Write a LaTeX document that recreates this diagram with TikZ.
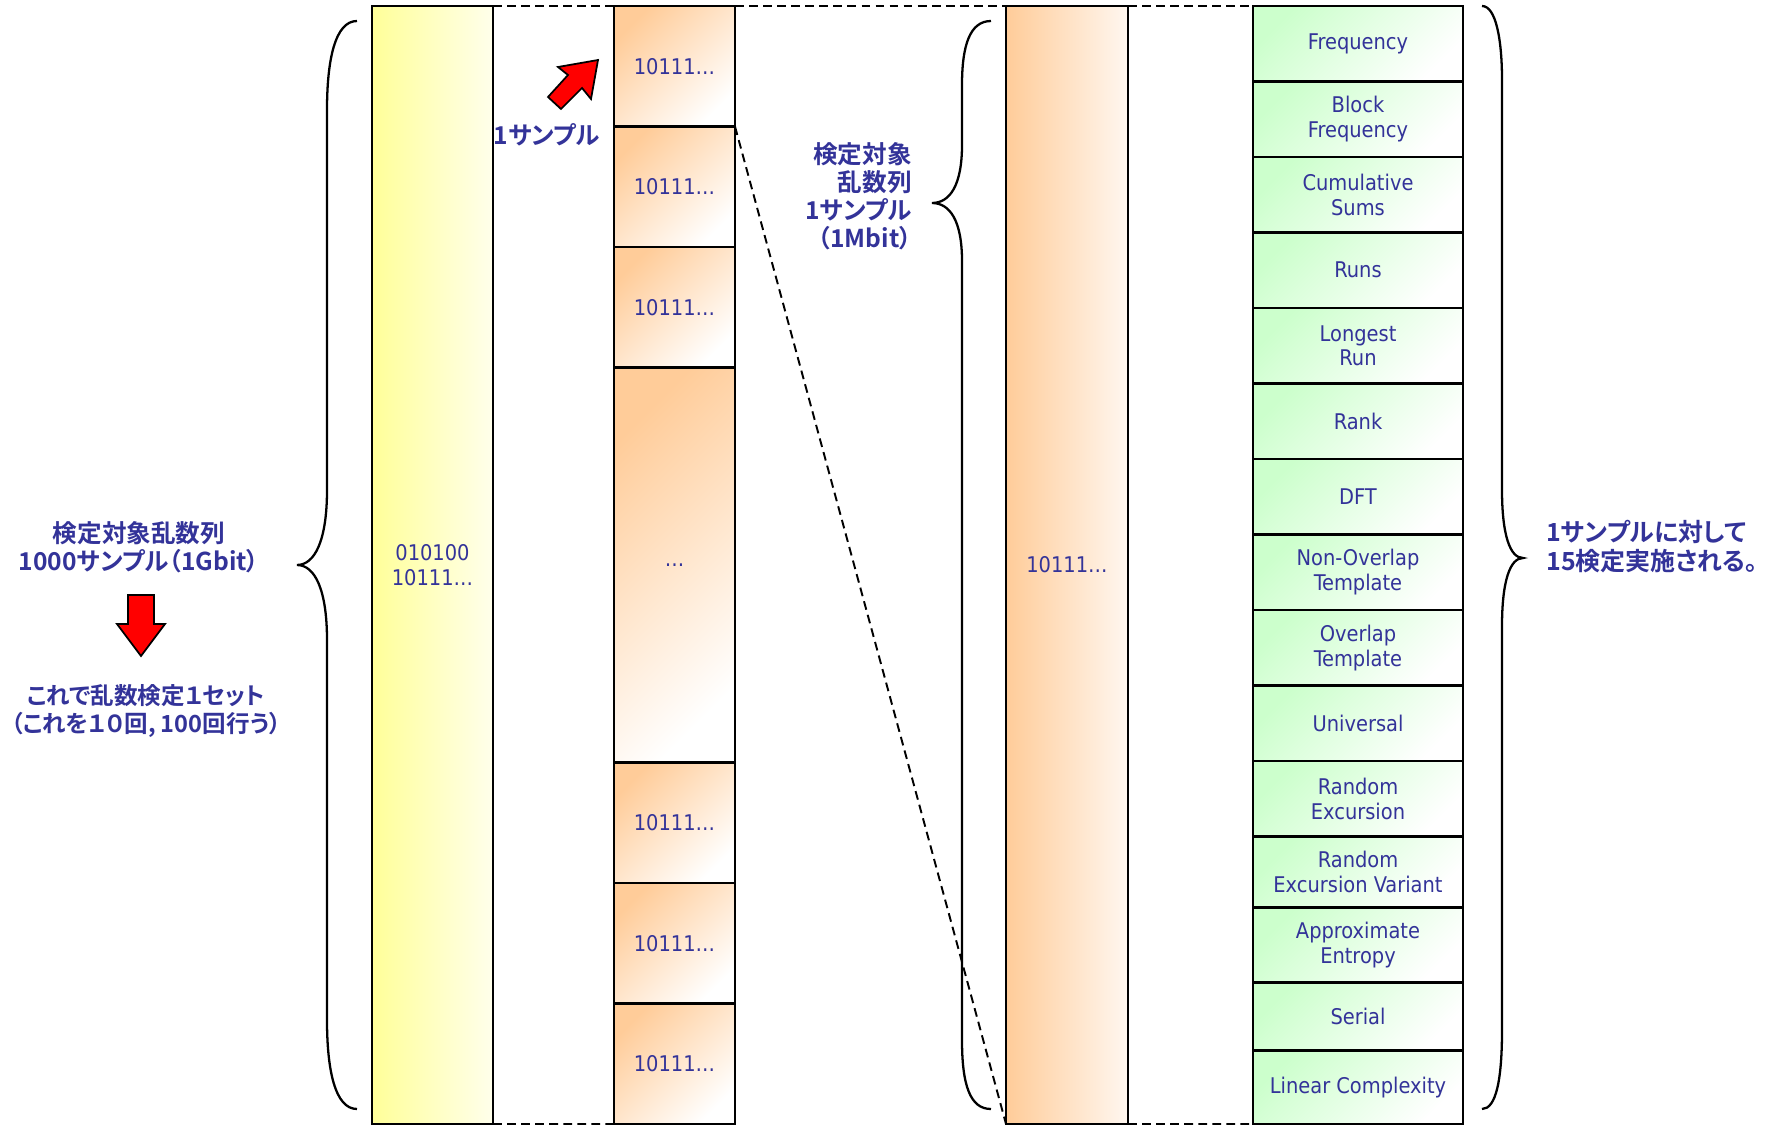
\documentclass[tikz,border=0pt]{standalone}
\usepackage{fontspec}
\setmainfont{DejaVu Sans Condensed}
\newfontfamily\jafont{Noto Sans CJK JP Bold}[RawFeature=+palt]
\usetikzlibrary{positioning}
\definecolor{txtblue}{RGB}{51,51,153}
\definecolor{yel}{RGB}{255,255,153}
\definecolor{yelpale}{RGB}{255,255,235}
\definecolor{peach}{RGB}{255,204,153}
\definecolor{peachpale}{RGB}{255,247,240}
\definecolor{mint}{RGB}{204,255,204}

\begin{document}
\begin{tikzpicture}[x=0.02cm, y=-0.02cm,
  box/.style={draw, line width=1.5pt, outer sep=0pt, inner sep=0pt, align=center,
    text=txtblue, font=\fontsize{12.3}{14}\selectfont},
  sample/.style={box, minimum width=121*0.02cm, top color=peach, bottom color=white, shading angle=45},
  test/.style={box, minimum width=210*0.02cm, top color=mint, bottom color=white, shading angle=45},
  jlabel/.style={text=txtblue, inner sep=0pt, font=\jafont\fontsize{14}{16}\selectfont},
  guide/.style={dashed, line width=1.1pt, dash pattern=on 5pt off 3pt},
  brace/.style={line width=1.3pt}]
  \useasboundingbox (0,0) rectangle (1768,1132);

  % whole sequence
  \node[box, anchor=north west, minimum width=121*0.02cm, minimum height=1118*0.02cm,
        left color=yel, right color=yelpale] (allseq) at (372,6) {010100\\10111…};

  % samples
  \node[sample, anchor=north west, minimum height=120.5*0.02cm] (s1) at (614,6) {10111…};
  \foreach \i/\h/\txt in {2/120.5/10111…, 3/120.5/10111…, 4/395/…,
                          5/120.5/10111…, 6/120.5/10111…, 7/120.5/10111…} {
    \pgfmathtruncatemacro\prev{\i-1}
    \node[sample, minimum height=\h*0.02cm, below=0pt of s\prev] (s\i) {\txt};
  }

  % one sample
  \node[box, anchor=north west, minimum width=122*0.02cm, minimum height=1118*0.02cm,
        left color=peach, right color=peachpale] (oneseq) at (1006,6) {10111…};

  % tests
  \node[test, anchor=north west, minimum height=75.5*0.02cm] (t1) at (1253,6) {Frequency};
  \foreach \i/\h/\txt in {2/75.5/{Block\\Frequency}, 3/75.5/{Cumulative\\Sums}, 4/75.5/Runs,
      5/75.5/{Longest\\Run}, 6/75.5/Rank, 7/75.5/DFT, 8/75.5/{Non-Overlap\\Template},
      9/75.5/{Overlap\\Template}, 10/75.5/Universal, 11/75.5/{Random\\Excursion},
      12/71/{Random\\Excursion Variant}, 13/75/{Approximate\\Entropy}, 14/68/Serial,
      15/73.5/{Linear Complexity}} {
    \pgfmathtruncatemacro\prev{\i-1}
    \node[test, minimum height=\h*0.02cm, below=0pt of t\prev] (t\i) {\txt};
  }

  % zoom guides
  \draw[guide] (allseq.north east) -- (s1.north west);
  \draw[guide] (allseq.south east) -- (s7.south west);
  \draw[guide] (s1.north east) -- (oneseq.north west);
  \draw[guide] (s1.south east) -- (oneseq.south west);
  \draw[guide] (oneseq.north east) -- (t1.north west);
  \draw[guide] (oneseq.south east) -- (t15.south west);

  % braces
  \draw[brace] (357,21) .. controls (335,21) and (327,60) .. (327,110) -- (327,490)
    .. controls (327,540) and (315,565) .. (297,565)
    .. controls (315,565) and (327,590) .. (327,640) -- (327,1020)
    .. controls (327,1070) and (335,1109) .. (357,1109);
  \draw[brace] (991,21) .. controls (970,21) and (962,45) .. (962,85) -- (962,145)
    .. controls (962,185) and (950,203) .. (932,203)
    .. controls (950,203) and (962,221) .. (962,261) -- (962,1040)
    .. controls (962,1085) and (970,1109) .. (991,1109);
  \draw[brace] (1482,6) .. controls (1496,6) and (1502,40) .. (1502,80) -- (1502,490)
    .. controls (1502,535) and (1510,558) .. (1523,558)
    .. controls (1510,558) and (1502,581) .. (1502,626) -- (1502,1030)
    .. controls (1502,1080) and (1496,1109) .. (1482,1109);

  % labels
  \node[jlabel, align=center] (total) at (139,547) {検定対象乱数列\\1000サンプル（1Gbit）};
  \node[jlabel, align=center, font=\jafont\fontsize{13.4}{16}\selectfont]
    (oneset) at (146,711) {これで乱数検定１セット\\（これを１０回, 100回行う）};
  \node[jlabel] (pick) at (547,135) {1サンプル};
  \node[jlabel, align=right, anchor=east] (target) at (912,196) {検定対象\\乱数列\\1サンプル\\（1Mbit）};
  \node[jlabel, align=left, anchor=west, font=\jafont\fontsize{14.2}{16.5}\selectfont]
    (fifteen) at (1546,547) {1サンプルに対して\\15検定実施される。};

  % red arrows
  \draw[fill=red, line width=1pt] (128,595) -- (154,595) -- (154,624) -- (165,624)
    -- (141,656) -- (117,624) -- (128,624) -- cycle;
  \draw[fill=red, line width=1pt] (598,60) -- (591,99) -- (582,88) -- (561,109)
    -- (548,97) -- (568,75) -- (558,67) -- cycle;
\end{tikzpicture}
\end{document}
